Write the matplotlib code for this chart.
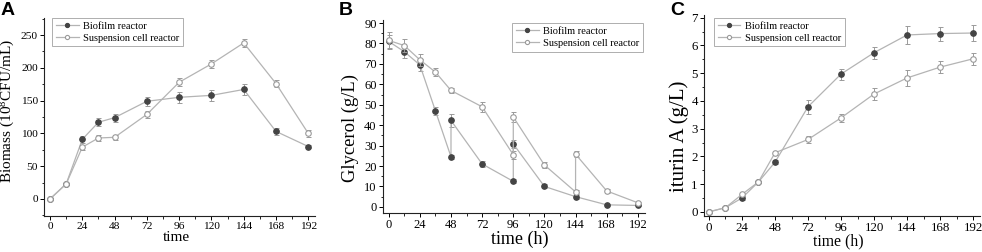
import matplotlib
matplotlib.use("Agg")
import matplotlib.pyplot as plt
from matplotlib.ticker import MultipleLocator

# ---------------- data ----------------
time_pts = [0, 12, 24, 36, 48, 72, 96, 120, 144, 168, 192]

biomass_bio = [0, 23, 91, 117, 124, 149, 155, 158, 167, 103, 80]
biomass_bio_err = [1, 2, 5, 6, 6, 7, 8, 8, 9, 5, 3]
biomass_sus = [0, 23, 79, 93, 94, 129, 178, 206, 238, 176, 100]
biomass_sus_err = [2, 2, 4, 4, 4, 5, 6, 6, 6, 6, 5]

gly_bio_t = [0, 12, 24, 36, 48, 48, 72, 96, 96, 120, 144, 168, 192]
gly_bio = [81, 76, 69.5, 47, 24.5, 42.3, 21, 12.5, 30.8, 10, 5, 1, 0.7]
gly_bio_err = [3, 3, 3, 2, 1, 3, 1.5, 1, 2, 1, 1, 0.5, 0.5]
gly_sus_t = [0, 12, 24, 36, 48, 72, 96, 96, 120, 144, 144, 168, 192]
gly_sus = [81.5, 79, 72, 66, 57, 49, 25.5, 44, 20.5, 7.3, 25.8, 7.8, 2]
gly_sus_err = [4, 3, 3, 2, 1, 2.5, 2, 2.5, 1.5, 1, 1.5, 0.8, 0.5]

itu_bio = [0, 0.15, 0.5, 1.08, 1.79, 3.79, 4.97, 5.74, 6.38, 6.43, 6.45]
itu_bio_err = [0.02, 0.03, 0.06, 0.05, 0.08, 0.25, 0.2, 0.22, 0.33, 0.25, 0.3]
itu_sus = [0, 0.15, 0.63, 1.08, 2.13, 2.61, 3.39, 4.25, 4.83, 5.22, 5.52]
itu_sus_err = [0.02, 0.03, 0.05, 0.05, 0.08, 0.12, 0.15, 0.2, 0.3, 0.22, 0.22]

labels = ["Biofilm reactor", "Suspension cell reactor"]
xticks = [0, 24, 48, 72, 96, 120, 144, 168, 192]

plt.rcParams['font.family'] = ['Liberation Serif', 'DejaVu Serif']

LINE = '#b4b4b4'
DARK = '#444444'
OPEN_EDGE = '#9a9a9a'
ERR = '#9a9a9a'

fig = plt.figure(figsize=(9.82, 2.52), dpi=100)
W, H = 982, 252

def ax_at(l, r, t, b):
    return fig.add_axes([l / W, (H - b) / H, (r - l) / W, (b - t) / H])

def style(ax, ymaj, ymin, tsize):
    for s in ['top', 'right']:
        ax.spines[s].set_visible(False)
    for s in ['left', 'bottom']:
        ax.spines[s].set_linewidth(0.8)
        ax.spines[s].set_color('#222222')
    ax.set_xticks(xticks)
    ax.xaxis.set_minor_locator(MultipleLocator(12))
    ax.yaxis.set_major_locator(MultipleLocator(ymaj))
    ax.yaxis.set_minor_locator(MultipleLocator(ymin))
    ax.tick_params(which='major', direction='out', length=3, width=0.7,
                   labelsize=tsize, pad=1.5)
    ax.tick_params(which='minor', direction='out', length=1.8, width=0.6)

def series(ax, t, y, e, filled, label):
    ax.errorbar(t, y, yerr=e, fmt='none', ecolor=ERR, elinewidth=0.7,
                capsize=1.8, capthick=0.7)
    if filled:
        mk = dict(marker='o', markersize=4, markerfacecolor=DARK,
                  markeredgecolor=DARK, markeredgewidth=0.8)
    else:
        mk = dict(marker='o', markersize=4, markerfacecolor='white',
                  markeredgecolor=OPEN_EDGE, markeredgewidth=0.8)
    ax.plot(t, y, color=LINE, lw=0.9, label=label, **mk)

def legend(ax, loc, anchor):
    lg = ax.legend(loc=loc, bbox_to_anchor=anchor, borderaxespad=0,
                   fontsize=7.5, frameon=True, fancybox=False,
                   handlelength=2.2, handletextpad=0.4, borderpad=0.35,
                   labelspacing=0.25, markerscale=0.75)
    lg.get_frame().set_edgecolor('#999999')
    lg.get_frame().set_linewidth(0.7)

# ---------------- A ----------------
axA = ax_at(44, 315, 18, 216)
series(axA, time_pts, biomass_bio, biomass_bio_err, True, labels[0])
series(axA, time_pts, biomass_sus, biomass_sus_err, False, labels[1])
axA.set_xlim(-4.5, 197)
axA.set_ylim(-26, 276)
style(axA, 50, 25, 8.2)
axA.set_xlabel('time', fontsize=11)
axA.set_ylabel(r'Biomass (10$\mathregular{^8}$CFU/mL)', fontsize=11)
axA.xaxis.set_label_coords(0.49, -0.078)
axA.yaxis.set_label_coords(-0.1, 0.532)
legend(axA, 'upper left', (0.03, 1.0))

# ---------------- B ----------------
axB = ax_at(383, 645, 20, 213)
series(axB, gly_bio_t, gly_bio, gly_bio_err, True, labels[0])
series(axB, gly_sus_t, gly_sus, gly_sus_err, False, labels[1])
axB.set_xlim(-4.4, 197.5)
axB.set_ylim(-3, 91.5)
style(axB, 10, 5, 9)
axB.set_xlabel('time (h)', fontsize=13)
axB.set_ylabel('Glycerol (g/L)', fontsize=13.3)
axB.xaxis.set_label_coords(0.522, -0.09)
axB.yaxis.set_label_coords(-0.092, 0.438)
legend(axB, 'upper right', (0.992, 0.984))

# ---------------- C ----------------
axC = ax_at(704, 980, 15, 216)
series(axC, time_pts, itu_bio, itu_bio_err, True, labels[0])
series(axC, time_pts, itu_sus, itu_sus_err, False, labels[1])
axC.set_xlim(-3.6, 197)
axC.set_ylim(-0.15, 7.1)
style(axC, 1, 0.5, 9.3)
axC.set_xlabel('time (h)', fontsize=11.3)
axC.set_ylabel('iturin A (g/L)', fontsize=15)
axC.xaxis.set_label_coords(0.486, -0.085)
axC.yaxis.set_label_coords(-0.054, 0.396)
legend(axC, 'upper left', (0.036, 0.985))

# panel letters
for x, s in [(1, 'A'), (339, 'B'), (670, 'C')]:
    fig.text(x / W, 1 - 2 / H, s, fontsize=14, fontweight='bold',
             family='Liberation Sans', va='top', ha='left')

fig.savefig('out.png', dpi=100)
